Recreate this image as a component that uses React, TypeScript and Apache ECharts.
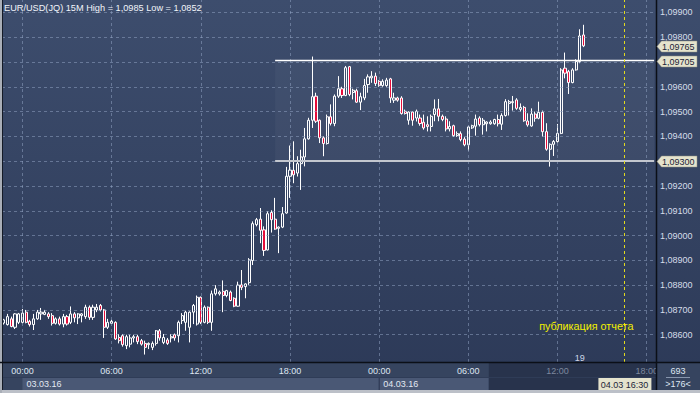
import React, { useEffect, useRef } from "react";
import * as echarts from "echarts";

// 15-minute slots; the first slot is 5 slots before 03.03.16 00:00
const START_OFFSET = -5;
const SLOT_COUNT = 176;

// [open, close, low, high]
const candles: number[][] = [
  [1.08647, 1.0866, 1.08641, 1.08664],
  [1.08641, 1.08673, 1.08637, 1.08684],
  [1.08664, 1.08633, 1.0863, 1.08673],
  [1.0863, 1.08684, 1.08623, 1.08687],
  [1.0865, 1.08684, 1.08643, 1.08688],
  [1.0865, 1.08687, 1.08646, 1.08704],
  [1.08691, 1.0865, 1.08646, 1.087],
  [1.08654, 1.08641, 1.08633, 1.0866],
  [1.08641, 1.08664, 1.08619, 1.08684],
  [1.08664, 1.08691, 1.0866, 1.087],
  [1.08684, 1.08691, 1.0866, 1.08708],
  [1.08682, 1.08691, 1.08679, 1.087],
  [1.08684, 1.08673, 1.08664, 1.08691],
  [1.08677, 1.08646, 1.08637, 1.08687],
  [1.08646, 1.08664, 1.08641, 1.0867],
  [1.08664, 1.08643, 1.08637, 1.08673],
  [1.08643, 1.08673, 1.0863, 1.08684],
  [1.08673, 1.08643, 1.08637, 1.0868],
  [1.0865, 1.08684, 1.08643, 1.08714],
  [1.08684, 1.08668, 1.0865, 1.08691],
  [1.08668, 1.08684, 1.08643, 1.08687],
  [1.08677, 1.08684, 1.0865, 1.08687],
  [1.08673, 1.08711, 1.08664, 1.08721],
  [1.08711, 1.0867, 1.0866, 1.08718],
  [1.0867, 1.08711, 1.0866, 1.08721],
  [1.087, 1.08711, 1.08691, 1.08724],
  [1.08718, 1.087, 1.08694, 1.08724],
  [1.087, 1.0863, 1.08587, 1.08704],
  [1.0863, 1.0865, 1.08623, 1.08664],
  [1.08646, 1.08654, 1.08643, 1.0866],
  [1.0865, 1.08583, 1.08579, 1.08654],
  [1.08589, 1.08576, 1.08565, 1.08603],
  [1.08596, 1.0856, 1.08552, 1.08603],
  [1.08556, 1.08592, 1.08542, 1.086],
  [1.08562, 1.08587, 1.08549, 1.086],
  [1.08587, 1.08592, 1.08569, 1.086],
  [1.08592, 1.08572, 1.08562, 1.086],
  [1.08576, 1.08562, 1.08556, 1.08583],
  [1.08565, 1.08549, 1.0852, 1.08576],
  [1.0856, 1.08565, 1.08542, 1.08569],
  [1.08549, 1.08565, 1.08538, 1.08573],
  [1.08565, 1.08616, 1.08556, 1.08619],
  [1.08616, 1.08587, 1.08576, 1.08623],
  [1.08569, 1.08589, 1.08562, 1.08603],
  [1.08579, 1.08565, 1.08559, 1.08587],
  [1.08587, 1.08592, 1.08569, 1.08603],
  [1.086, 1.08587, 1.08576, 1.08605],
  [1.08596, 1.0865, 1.08569, 1.08657],
  [1.08657, 1.08677, 1.08643, 1.08687],
  [1.0865, 1.08691, 1.08616, 1.08697],
  [1.0863, 1.08691, 1.08569, 1.08694],
  [1.08691, 1.08718, 1.08643, 1.08724],
  [1.08643, 1.08751, 1.08637, 1.08758],
  [1.08751, 1.0865, 1.08643, 1.08754],
  [1.0865, 1.08711, 1.08646, 1.08718],
  [1.08711, 1.0865, 1.08643, 1.08714],
  [1.0865, 1.08765, 1.08616, 1.08778],
  [1.08765, 1.08785, 1.08758, 1.088],
  [1.08765, 1.08772, 1.08758, 1.08778],
  [1.08775, 1.08758, 1.08691, 1.08819],
  [1.08758, 1.08778, 1.08751, 1.08781],
  [1.08772, 1.08738, 1.08735, 1.08778],
  [1.08747, 1.08715, 1.08711, 1.08751],
  [1.08715, 1.088, 1.08713, 1.08814],
  [1.08801, 1.08791, 1.0878, 1.08861],
  [1.08794, 1.08805, 1.08747, 1.08807],
  [1.0881, 1.08902, 1.08801, 1.08909],
  [1.08899, 1.09048, 1.08881, 1.09057],
  [1.09044, 1.09064, 1.09037, 1.09071],
  [1.09066, 1.09021, 1.08969, 1.09111],
  [1.09023, 1.0894, 1.08918, 1.09037],
  [1.08942, 1.09088, 1.0894, 1.09098],
  [1.09093, 1.09064, 1.09012, 1.09102],
  [1.09066, 1.09026, 1.09023, 1.09152],
  [1.09029, 1.09034, 1.08929, 1.09037],
  [1.09034, 1.09088, 1.0903, 1.09115],
  [1.09091, 1.09239, 1.09088, 1.09277],
  [1.09239, 1.09264, 1.09152, 1.09363],
  [1.09263, 1.09245, 1.09211, 1.0938],
  [1.09252, 1.0929, 1.09238, 1.0932],
  [1.0929, 1.09317, 1.09184, 1.09346],
  [1.09317, 1.0939, 1.09279, 1.09434],
  [1.0939, 1.09465, 1.09387, 1.09475],
  [1.09465, 1.0956, 1.09434, 1.09722],
  [1.09562, 1.09461, 1.09454, 1.09576],
  [1.09465, 1.09394, 1.09373, 1.09468],
  [1.09394, 1.09371, 1.0932, 1.094],
  [1.09371, 1.09479, 1.09367, 1.09488],
  [1.09479, 1.09452, 1.09444, 1.09529],
  [1.09452, 1.09562, 1.09441, 1.09569],
  [1.09562, 1.09592, 1.09555, 1.09643],
  [1.09592, 1.09565, 1.09555, 1.096],
  [1.09565, 1.09677, 1.09562, 1.09684],
  [1.09681, 1.09569, 1.09562, 1.09684],
  [1.09577, 1.09586, 1.09549, 1.09592],
  [1.09584, 1.09538, 1.09535, 1.09592],
  [1.09538, 1.0956, 1.09506, 1.09576],
  [1.09555, 1.09605, 1.09546, 1.09632],
  [1.09609, 1.0964, 1.09576, 1.0965],
  [1.09636, 1.09643, 1.09616, 1.09663],
  [1.09643, 1.09613, 1.09603, 1.09657],
  [1.09622, 1.09605, 1.096, 1.09627],
  [1.09605, 1.09622, 1.096, 1.0963],
  [1.09605, 1.09627, 1.096, 1.09636],
  [1.09632, 1.09555, 1.09535, 1.09636],
  [1.09546, 1.09555, 1.09535, 1.09576],
  [1.09555, 1.09546, 1.0954, 1.0956],
  [1.09555, 1.09492, 1.09488, 1.09562],
  [1.09501, 1.09492, 1.09488, 1.09508],
  [1.09465, 1.09498, 1.09447, 1.09501],
  [1.09498, 1.09465, 1.09443, 1.09501],
  [1.09474, 1.09501, 1.0946, 1.09508],
  [1.09474, 1.09452, 1.09443, 1.09488],
  [1.09457, 1.09434, 1.09427, 1.09488],
  [1.09447, 1.0944, 1.0942, 1.09481],
  [1.0944, 1.09481, 1.0942, 1.09488],
  [1.09488, 1.09511, 1.09461, 1.09549],
  [1.09511, 1.09481, 1.09461, 1.09551],
  [1.09481, 1.09468, 1.09461, 1.09488],
  [1.0947, 1.0943, 1.0942, 1.09481],
  [1.0943, 1.0944, 1.0942, 1.09461],
  [1.09443, 1.09403, 1.09398, 1.09447],
  [1.09403, 1.09411, 1.09398, 1.0942],
  [1.09411, 1.09387, 1.0938, 1.0942],
  [1.09389, 1.09366, 1.0936, 1.09397],
  [1.09366, 1.09438, 1.09343, 1.09443],
  [1.09434, 1.09443, 1.0943, 1.09447],
  [1.09441, 1.0947, 1.09403, 1.09488],
  [1.09474, 1.09447, 1.0944, 1.09481],
  [1.09447, 1.09465, 1.09407, 1.09474],
  [1.09451, 1.09458, 1.0942, 1.09461],
  [1.09451, 1.09458, 1.09447, 1.09465],
  [1.09451, 1.09468, 1.09447, 1.09471],
  [1.09468, 1.09451, 1.0944, 1.09488],
  [1.09449, 1.09484, 1.09426, 1.09493],
  [1.09484, 1.0954, 1.0948, 1.0955],
  [1.09533, 1.0954, 1.09484, 1.09547],
  [1.09536, 1.0954, 1.09504, 1.09563],
  [1.09547, 1.09513, 1.09507, 1.09554],
  [1.09509, 1.09517, 1.095, 1.09533],
  [1.09517, 1.09463, 1.09459, 1.09523],
  [1.09462, 1.09446, 1.09439, 1.09493],
  [1.09442, 1.0949, 1.09439, 1.09513],
  [1.0949, 1.09473, 1.09459, 1.095],
  [1.09473, 1.09497, 1.09469, 1.0954],
  [1.09497, 1.09419, 1.09399, 1.09504],
  [1.09419, 1.09348, 1.09342, 1.09453],
  [1.09348, 1.09368, 1.09278, 1.09372],
  [1.09368, 1.09379, 1.09321, 1.09385],
  [1.09379, 1.09412, 1.09375, 1.0945],
  [1.09412, 1.09668, 1.09409, 1.09675],
  [1.09675, 1.09655, 1.09634, 1.09738],
  [1.09661, 1.09617, 1.09571, 1.09668],
  [1.09617, 1.09668, 1.09614, 1.09675],
  [1.09668, 1.09702, 1.09665, 1.09711],
  [1.09702, 1.09805, 1.09695, 1.09832],
  [1.09809, 1.09765, 1.0976, 1.0985],
];

const yTicks = [
  1.086, 1.087, 1.088, 1.089, 1.09, 1.091, 1.092, 1.093, 1.094, 1.095, 1.096,
  1.097, 1.098, 1.099,
];
const upperLevel = 1.09705;
const lowerLevel = 1.093;
const lastPrice = 1.09765;
const levelStartSlot = 73;
const eventSlot = 167;
const dimFromSlot = 131;
const titleText = "EUR/USD(JQ) 15M High = 1,0985 Low = 1,0852";
const eventText = "публикация отчета";
const barCountText = "693";
const visibleText = ">176<";
const markerCount = "19";

const pad = (n: number) => (n < 10 ? "0" + n : "" + n);
const categories: string[] = Array.from({ length: SLOT_COUNT }, (_, k) => {
  const total = (k + START_OFFSET) * 15 + 3 * 1440;
  const day = Math.floor(total / 1440);
  const rem = total - day * 1440;
  return `${pad(day)}.03.16 ${pad(Math.floor(rem / 60))}:${pad(rem % 60)}`;
});
const isSixHour = (c: string) => {
  const hh = parseInt(c.slice(9, 11), 10);
  return c.slice(12, 14) === "00" && hh % 6 === 0;
};
const isMidnight = (c: string) => c.slice(9) === "00:00";

const FONT = "Liberation Sans";
const fmtPrice = (v: number) => v.toFixed(5).replace(".", ",");
// axis labels hidden under the level tags (the tags show the same text)
const labelTicks = yTicks.filter(
  (v) => Math.abs(v - lowerLevel) > 0.0002 && Math.abs(v - upperLevel) > 0.0002
);

export default function App() {
  const ref = useRef<HTMLDivElement>(null);
  useEffect(() => {
    if (!ref.current) return;
    const chart = echarts.init(ref.current, null, { renderer: "svg" });
    const gridStyle = { color: "rgba(150,168,200,0.5)", type: [3, 3], width: 1 };
    const gridLines: any[] = [
      ...yTicks.map((v) => ({ yAxis: v, lineStyle: gridStyle })),
      ...categories.filter(isSixHour).map((c) => ({ xAxis: c, lineStyle: gridStyle })),
    ];
    chart.setOption({
      animation: false,
      backgroundColor: "transparent",
      grid: { left: 2, right: 44, top: 0, bottom: 31, outerBoundsMode: "none" },
      xAxis: [
        {
          type: "category",
          data: categories,
          boundaryGap: true,
          axisLine: { show: false },
          axisTick: { show: false },
          splitLine: { show: false },
          axisLabel: {
            interval: (i: number, v: string) => isSixHour(v),
            formatter: (v: string, i: number) =>
              i >= dimFromSlot ? `{d|${v.slice(9)}}` : v.slice(9),
            color: "#dfe6f1",
            fontSize: 9,
            fontFamily: FONT,
            margin: 4,
            rich: { d: { color: "#7d889e", fontSize: 9, fontFamily: FONT } },
          },
        },
        {
          type: "category",
          data: categories,
          position: "bottom",
          offset: 14,
          boundaryGap: true,
          axisLine: { show: false },
          axisTick: { show: false },
          splitLine: { show: false },
          axisLabel: {
            interval: (i: number, v: string) => isMidnight(v),
            formatter: (v: string) => v.slice(0, 8),
            align: "left",
            padding: [0, 0, 0, 4],
            color: "#e2e8f2",
            fontSize: 9,
            fontFamily: FONT,
            margin: 3,
          },
        },
      ],
      yAxis: {
        type: "value",
        position: "right",
        min: 1.0849,
        max: 1.0995,
        axisLine: { show: false },
        axisTick: { show: false },
        splitLine: { show: false },
        axisLabel: {
          customValues: labelTicks,
          formatter: (v: number) => fmtPrice(v),
          color: "#d6deea",
          fontSize: 9,
          fontFamily: FONT,
          margin: 4,
        },
      },
      series: [
        {
          type: "candlestick",
          data: candles,
          barWidth: 2.6,
          z: 3,
          itemStyle: {
            color: "transparent",
            color0: "#e60d3a",
            borderColor: "#ffffff",
            borderColor0: "#ffffff",
            borderWidth: 1,
          },
          markArea: {
            silent: true,
            itemStyle: { color: "rgba(255,255,255,0.035)" },
            data: [
              [
                { xAxis: categories[levelStartSlot], yAxis: upperLevel },
                { xAxis: categories[SLOT_COUNT - 1], yAxis: lowerLevel },
              ],
            ],
          },
          markLine: {
            symbol: "none",
            silent: true,
            precision: 6,
            label: { show: false },
            data: [
              ...gridLines,
              [
                { coord: [categories[levelStartSlot], upperLevel], lineStyle: { color: "#ffffff", width: 1.3, type: "solid" } },
                { coord: [categories[SLOT_COUNT - 1], upperLevel] },
              ],
              [
                { coord: [categories[levelStartSlot], lowerLevel], lineStyle: { color: "#c3c7cf", width: 2, type: "solid" } },
                { coord: [categories[SLOT_COUNT - 1], lowerLevel] },
              ],
              {
                xAxis: categories[eventSlot],
                lineStyle: { color: "#e4dc1c", width: 1, type: [3, 3] },
              },
            ],
          },
        },
      ],
    });

    const py = (v: number) => chart.convertToPixel({ yAxisIndex: 0 }, v) as number;
    const px = (k: number) => chart.convertToPixel({ xAxisIndex: 0 }, categories[k]) as number;
    const slotW = px(1) - px(0);
    const tag = (v: number) => {
      const y = Math.round(py(v)) + 0.5;
      return [
        {
          type: "polygon",
          z: 60,
          shape: { points: [[657, y], [661.5, y - 5.5], [697, y - 5.5], [697, y + 5.5], [661.5, y + 5.5]] },
          style: { fill: "#e5e3cd", stroke: "#8c8c80", lineWidth: 0.5 },
        },
        {
          type: "text",
          z: 61,
          x: 662,
          y,
          style: { text: fmtPrice(v), fill: "#1b2438", fontSize: 9, fontFamily: FONT, verticalAlign: "middle", align: "left" },
        },
      ];
    };
    const dateStart = px(5);
    const dateMid = px(101);
    const dimStart = px(dimFromSlot) - slotW / 2;
    const ex = px(eventSlot);
    chart.setOption({
      graphic: [
        { type: "rect", z: -10, shape: { x: 0, y: 362, width: 700, height: 31 }, style: { fill: "#36445f" } },
        { type: "rect", z: -9, shape: { x: dateStart, y: 378, width: dateMid - dateStart, height: 12 }, style: { fill: "#4a5875" } },
        { type: "rect", z: -9, shape: { x: dateMid, y: 378, width: dimStart - dateMid, height: 12 }, style: { fill: "#4a5875" } },
        { type: "line", z: -8, shape: { x1: dateMid, y1: 378, x2: dateMid, y2: 390 }, style: { stroke: "#2a3550", lineWidth: 1 } },
        { type: "line", z: -8, shape: { x1: 0, y1: 377.5, x2: 656, y2: 377.5 }, style: { stroke: "#2f3c57", lineWidth: 1 } },
        { type: "rect", z: -9, shape: { x: dimStart, y: 363, width: 656 - dimStart, height: 27 }, style: { fill: "#28334c" } },
        { type: "rect", z: 40, shape: { x: 0, y: 390, width: 700, height: 3 }, style: { fill: "#bcc0c8" } },
        { type: "rect", z: 40, shape: { x: 0, y: 0, width: 2, height: 393 }, style: { fill: "#a9aeb7" } },
        { type: "line", z: 40, shape: { x1: 2.5, y1: 0, x2: 2.5, y2: 390 }, style: { stroke: "#141a26", lineWidth: 1 } },
        { type: "rect", z: 45, shape: { x: 657, y: 363, width: 43, height: 27 }, style: { fill: "#36445f" } },
        { type: "line", z: 50, shape: { x1: 0, y1: 362.5, x2: 700, y2: 362.5 }, style: { stroke: "#0b0f17", lineWidth: 1.5 } },
        { type: "line", z: 50, shape: { x1: 656.5, y1: 0, x2: 656.5, y2: 390 }, style: { stroke: "#0b0f17", lineWidth: 1.5 } },
        { type: "line", z: 50, shape: { x1: 666, y1: 377.5, x2: 690, y2: 377.5 }, style: { stroke: "#8795ad", lineWidth: 1 } },
        { type: "text", z: 51, x: 678, y: 371, style: { text: barCountText, fill: "#dfe6f1", fontSize: 9, fontFamily: FONT, align: "center", verticalAlign: "middle" } },
        { type: "text", z: 51, x: 678, y: 384, style: { text: visibleText, fill: "#dfe6f1", fontSize: 9, fontFamily: FONT, align: "center", verticalAlign: "middle" } },
        { type: "text", z: 51, x: 4, y: 8, style: { text: titleText, fill: "#f2f5fa", fontSize: 9.2, fontFamily: FONT, align: "left", verticalAlign: "middle" } },
        { type: "text", z: 51, x: ex + 9, y: 326, style: { text: eventText, fill: "#f4f000", fontSize: 10.8, fontFamily: FONT, align: "right", verticalAlign: "middle" } },
        { type: "text", z: 51, x: px(155), y: 358, style: { text: markerCount, fill: "#cfd8e8", fontSize: 9, fontFamily: FONT, align: "center", verticalAlign: "middle" } },
        { type: "rect", z: 60, shape: { x: ex - 26, y: 378, width: 53, height: 12 }, style: { fill: "#e5e3cd" } },
        { type: "text", z: 61, x: ex, y: 384.5, style: { text: categories[eventSlot].slice(0, 5) + " " + categories[eventSlot].slice(9), fill: "#1b2438", fontSize: 9, fontFamily: FONT, align: "center", verticalAlign: "middle" } },
        ...tag(lowerLevel),
        ...tag(upperLevel),
        ...tag(lastPrice),
      ],
    });
    return () => chart.dispose();
  }, []);
  return (
    <div
      ref={ref}
      style={{
        position: "fixed",
        left: 0,
        top: 0,
        width: 700,
        height: 393,
        background: "linear-gradient(to bottom, #3d4d6d 0%, #2c3957 100%)",
      }}
    />
  );
}
